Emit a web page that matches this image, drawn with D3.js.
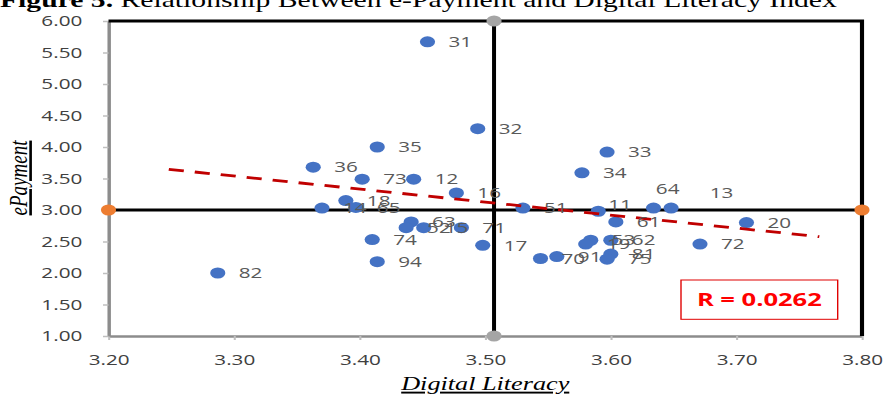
<!DOCTYPE html>
<meta charset="utf-8">
<style>
body { margin: 0; background: #fff; }
svg { display: block; }
.tick text { font-family: "Open Sans", sans-serif; font-size: 15px; fill: #404040; }
.tick line { stroke: #bfbfbf; stroke-width: 1.5; }
.domain { stroke: #8c8c8c; stroke-width: 2.5; }
.lbl { font-family: "Open Sans", sans-serif; font-size: 15px; fill: #595959; }
.ttl { font-family: "Liberation Serif", serif; font-style: italic; font-size: 19px; fill: #000; text-decoration: underline; }
</style>
<body>
<svg id="chart" width="883" height="396"></svg>
<script src="https://cdn.jsdelivr.net/npm/d3@7/dist/d3.min.js"></script>
<script>

// province codes and their scores
var ids       = [31, 32, 35, 33, 34, 36, 73, 12, 16, 18, 14, 65, 51, 11, 64, 13, 61, 20, 72,
                 63, 52, 15, 71, 74, 94, 17, 82, 53, 19, 62, 81, 75, 70, 91];
var literacy  = [3.454, 3.494, 3.414, 3.597, 3.577, 3.363, 3.402, 3.443, 3.477, 3.389, 3.370, 3.397,
                 3.530, 3.590, 3.634, 3.648, 3.604, 3.708, 3.671, 3.441, 3.437, 3.451, 3.481, 3.410,
                 3.414, 3.498, 3.287, 3.584, 3.580, 3.600, 3.600, 3.597, 3.544, 3.557];
var epayment  = [5.67, 4.29, 4.00, 3.92, 3.59, 3.68, 3.49, 3.49, 3.27, 3.15, 3.03, 3.04,
                 3.03, 2.98, 3.03, 3.03, 2.81, 2.80, 2.46, 2.81, 2.72, 2.72, 2.72, 2.53,
                 2.18, 2.44, 2.00, 2.52, 2.46, 2.52, 2.30, 2.22, 2.23, 2.26];

var meanLiteracy = 3.507;
var meanEpayment = 3.00;
var trendX = [3.248, 3.766];
var trendY = [3.646, 2.576];
var rText = "R = 0.0262";

var xTicks = [3.2, 3.3, 3.4, 3.5, 3.6, 3.7, 3.8];
var yTicks = [1, 1.5, 2, 2.5, 3, 3.5, 4, 4.5, 5, 5.5, 6];

// labels that were moved off their default place (dx, dy in px)
var labelNudge = { 64: [1.7, -19], 13: [28, -15], 11: [7.2, -7] };

// the original picture is stretched sideways, so draw in a narrower box
var S = 1.38;
var W = 883 / S, H = 396;

var svg = d3.select("#chart")
    .attr("viewBox", "0 0 " + W + " " + H)
    .attr("preserveAspectRatio", "none");

var x = d3.scaleLinear().domain([3.2, 3.8]).range([108.5 / S, 862 / S]);
var y = d3.scaleLinear().domain([1, 6]).range([336, 21]);

// title, cut off at the top like the source
var title = svg.append("text")
    .attr("x", 0)
    .attr("y", 7)
    .style("font-family", '"Liberation Serif", serif')
    .style("font-size", "21.5px");
title.append("tspan").attr("font-weight", "bold").text("Figure 5.");
title.append("tspan").text(" Relationship Between e-Payment and Digital Literacy Index");

// axes
svg.append("g")
    .attr("transform", "translate(0," + y(1) + ")")
    .call(d3.axisBottom(x).tickValues(xTicks).tickFormat(d3.format(".2f"))
      .tickSizeInner(4).tickSizeOuter(0).tickPadding(14.5));

svg.append("g")
    .attr("transform", "translate(" + x(3.2) + ",0)")
    .call(d3.axisLeft(y).tickValues(yTicks).tickFormat(d3.format(".2f"))
      .tickSizeInner(4).tickSizeOuter(0).tickPadding(15));

// top and right border
svg.append("path")
    .attr("d", "M" + x(3.2) + "," + y(6) + "H" + x(3.8) + "V" + y(1))
    .attr("fill", "none")
    .attr("stroke", "#000")
    .attr("stroke-width", 3);

// mean lines
svg.append("line")
    .attr("x1", x(3.2)).attr("x2", x(3.8))
    .attr("y1", y(meanEpayment)).attr("y2", y(meanEpayment))
    .attr("stroke", "#000").attr("stroke-width", 3);
svg.append("line")
    .attr("x1", x(meanLiteracy)).attr("x2", x(meanLiteracy))
    .attr("y1", y(1)).attr("y2", y(6))
    .attr("stroke", "#000").attr("stroke-width", 2.9);

svg.selectAll("circle.hmean")
    .data([3.2, 3.8])
    .enter().append("circle")
    .attr("class", "hmean")
    .attr("cx", function(d) { return x(d); })
    .attr("cy", y(meanEpayment))
    .attr("r", 5.5)
    .attr("fill", "#ED7D31");

svg.selectAll("circle.vmean")
    .data([1, 6])
    .enter().append("circle")
    .attr("class", "vmean")
    .attr("cx", x(meanLiteracy))
    .attr("cy", function(d) { return y(d); })
    .attr("r", 5.5)
    .attr("fill", "#A5A5A5");

// points
var pts = ids.map(function(id, i) { return { id: id, lit: literacy[i], pay: epayment[i] }; });

svg.append("g")
    .selectAll("circle")
    .data(pts)
    .enter().append("circle")
    .attr("cx", function(d) { return x(d.lit); })
    .attr("cy", function(d) { return y(d.pay); })
    .attr("r", 5.5)
    .attr("fill", "#4472C4");

// trend line
svg.append("line")
    .attr("x1", x(trendX[0])).attr("y1", y(trendY[0]))
    .attr("x2", x(trendX[1])).attr("y2", y(trendY[1]))
    .attr("stroke", "#C00000")
    .attr("stroke-width", 2.8)
    .attr("stroke-dasharray", "11,8");

// point labels
svg.append("g")
    .selectAll("text")
    .data(pts)
    .enter().append("text")
    .attr("class", "lbl")
    .attr("x", function(d) { var n = labelNudge[d.id]; return x(d.lit) + (n ? n[0] : 15.2); })
    .attr("y", function(d) { var n = labelNudge[d.id]; return y(d.pay) + (n ? n[1] : 0); })
    .attr("dy", "0.35em")
    .text(function(d) { return d.id; });

// R box
var box = svg.append("g").attr("transform", "translate(" + (681 / S) + ",280)");
box.append("rect")
    .attr("width", (837.7 - 681) / S)
    .attr("height", 39.3)
    .attr("fill", "#fff")
    .attr("stroke", "#e00000")
    .attr("stroke-width", 1);
box.append("text")
    .attr("x", (837.7 - 681) / S / 2)
    .attr("y", 19.6)
    .attr("dy", "0.36em")
    .attr("text-anchor", "middle")
    .style("font-family", '"Open Sans", sans-serif')
    .style("font-weight", "bold")
    .style("font-size", "18.5px")
    .attr("fill", "#ff0000")
    .text(rText);

// axis titles
svg.append("text")
    .attr("class", "ttl")
    .attr("x", x(3.5))
    .attr("y", 390)
    .attr("text-anchor", "middle")
    .text("Digital Literacy");

svg.append("text")
    .attr("class", "ttl")
    .attr("transform", "translate(" + (27 / S) + "," + 178 + ") rotate(-90)")
    .attr("text-anchor", "middle")
    .text("ePayment");

</script>
</body>
